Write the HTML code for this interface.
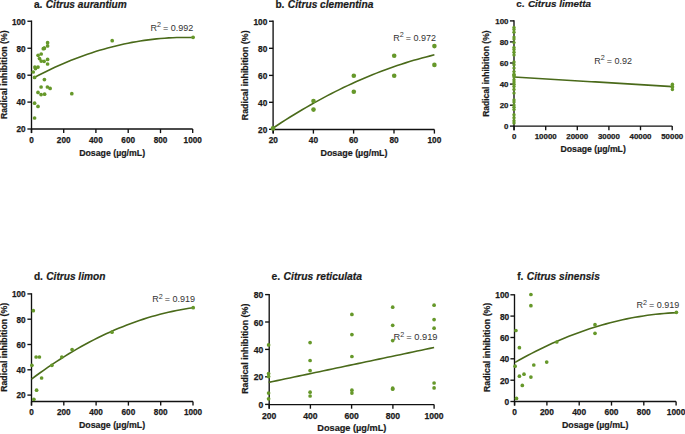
<!DOCTYPE html>
<html><head><meta charset="utf-8"><style>
html,body{margin:0;padding:0;background:#fff;}
svg{display:block;}
text{font-family:"Liberation Sans", sans-serif;fill:#1a1a1a;}
.ax{stroke:#111;stroke-width:1.35;fill:none;}
.yt{font-size:8.2px;font-weight:bold;text-anchor:end;stroke:#1a1a1a;stroke-width:0.25px;}
.xt{font-size:8.2px;font-weight:bold;text-anchor:middle;stroke:#1a1a1a;stroke-width:0.25px;}
.ti{font-weight:bold;stroke:#1a1a1a;stroke-width:0.2px;}
.al{font-size:8.7px;font-weight:bold;text-anchor:middle;stroke:#1a1a1a;stroke-width:0.2px;}
.r2{font-size:9px;text-anchor:end;fill:#333;}
.ln{stroke:#4a6a1a;stroke-width:1.6;fill:none;}
circle{fill:#66982a;}
</style></head><body>
<svg width="685" height="434" viewBox="0 0 685 434">
<g><path d="M31.5 20.58V133.1M31.5 129H192.7" class="ax"/><path d="M27.4 129H31.5" class="ax"/><text x="25.65" y="132.35" class="yt" style="font-size:8.2px">20</text><path d="M27.4 102.1H31.5" class="ax"/><text x="25.65" y="105.45" class="yt" style="font-size:8.2px">40</text><path d="M27.4 75.2H31.5" class="ax"/><text x="25.65" y="78.55" class="yt" style="font-size:8.2px">60</text><path d="M27.4 48.25H31.5" class="ax"/><text x="25.65" y="51.6" class="yt" style="font-size:8.2px">80</text><path d="M27.4 21.25H31.5" class="ax"/><text x="25.65" y="24.6" class="yt" style="font-size:8.2px">100</text><path d="M31.5 129V133.1" class="ax"/><text x="31.5" y="142.6" class="xt" style="font-size:8.2px">0</text><path d="M63.7 129V133.1" class="ax"/><text x="63.7" y="142.6" class="xt" style="font-size:8.2px">200</text><path d="M95.9 129V133.1" class="ax"/><text x="95.9" y="142.6" class="xt" style="font-size:8.2px">400</text><path d="M128.2 129V133.1" class="ax"/><text x="128.2" y="142.6" class="xt" style="font-size:8.2px">600</text><path d="M160.5 129V133.1" class="ax"/><text x="160.5" y="142.6" class="xt" style="font-size:8.2px">800</text><path d="M192.7 129V133.1" class="ax"/><text x="192.7" y="142.6" class="xt" style="font-size:8.2px">1000</text><text x="33.9" y="7.7" class="ti" font-size="10.15">a.<tspan dx="3.4" font-style="italic">Citrus aurantium</tspan></text><text transform="translate(6.9 74.75) rotate(-90)" class="al" style="font-size:8.73px">Radical inhibition (%)</text><text x="112.15" y="155.8" class="al" style="font-size:8.78px">Dosage (µg/mL)</text><text x="193.3" y="30.7" class="r2" style="font-size:9px">R<tspan dy="-3.3" font-size="7.2">2</tspan><tspan dy="3.3" dx="-0.6"> = 0.992</tspan></text><path d="M34.5 77.37 L38.57 75.24 L42.63 73.18 L46.7 71.17 L50.77 69.22 L54.83 67.33 L58.9 65.49 L62.97 63.72 L67.03 62 L71.1 60.34 L75.17 58.74 L79.23 57.19 L83.3 55.71 L87.37 54.28 L91.43 52.91 L95.5 51.6 L99.57 50.35 L103.63 49.15 L107.7 48.02 L111.77 46.94 L115.83 45.91 L119.9 44.95 L123.97 44.05 L128.03 43.2 L132.1 42.41 L136.17 41.68 L140.23 41.01 L144.3 40.39 L148.37 39.84 L152.43 39.34 L156.5 38.9 L160.57 38.52 L164.63 38.19 L168.7 37.92 L172.77 37.72 L176.83 37.57 L180.9 37.47 L184.97 37.44 L189.03 37.46 L193.1 37.55" class="ln"/><circle cx="47.6" cy="42.7" r="1.85"/><circle cx="47.6" cy="45.9" r="1.85"/><circle cx="44.1" cy="48.4" r="1.85"/><circle cx="43.3" cy="48.7" r="1.85"/><circle cx="44.4" cy="48.1" r="1.85"/><circle cx="41.2" cy="54" r="1.85"/><circle cx="38.1" cy="55.3" r="1.85"/><circle cx="39.5" cy="58.6" r="1.85"/><circle cx="41.2" cy="61.1" r="1.85"/><circle cx="44.1" cy="61.3" r="1.85"/><circle cx="47.6" cy="59.4" r="1.85"/><circle cx="47.6" cy="64" r="1.85"/><circle cx="34.9" cy="67.1" r="1.85"/><circle cx="38" cy="67.1" r="1.85"/><circle cx="35.5" cy="68.6" r="1.85"/><circle cx="33.2" cy="72" r="1.85"/><circle cx="34.6" cy="77.4" r="1.85"/><circle cx="44.4" cy="79.6" r="1.85"/><circle cx="41.1" cy="87" r="1.85"/><circle cx="47.4" cy="87" r="1.85"/><circle cx="50.1" cy="88.4" r="1.85"/><circle cx="38" cy="92.4" r="1.85"/><circle cx="41.1" cy="94.6" r="1.85"/><circle cx="44.6" cy="94.2" r="1.85"/><circle cx="71.8" cy="93.7" r="1.85"/><circle cx="34.6" cy="103.2" r="1.85"/><circle cx="38" cy="106.4" r="1.85"/><circle cx="34.6" cy="118" r="1.85"/><circle cx="112.2" cy="40.7" r="1.85"/><circle cx="193.1" cy="37.3" r="1.85"/></g>
<g><path d="M273.1 20.58V133.6M273.1 129.5H434.4" class="ax"/><path d="M269 129.3H273.1" class="ax"/><text x="267.35" y="132.69" class="yt" style="font-size:8.3px">20</text><path d="M269 102.3H273.1" class="ax"/><text x="267.35" y="105.69" class="yt" style="font-size:8.3px">40</text><path d="M269 75.4H273.1" class="ax"/><text x="267.35" y="78.79" class="yt" style="font-size:8.3px">60</text><path d="M269 48.3H273.1" class="ax"/><text x="267.35" y="51.69" class="yt" style="font-size:8.3px">80</text><path d="M269 21.25H273.1" class="ax"/><text x="267.35" y="24.64" class="yt" style="font-size:8.3px">100</text><path d="M273.3 129.5V133.6" class="ax"/><text x="273.3" y="143" class="xt" style="font-size:8.3px">20</text><path d="M313.4 129.5V133.6" class="ax"/><text x="313.4" y="143" class="xt" style="font-size:8.3px">40</text><path d="M353.6 129.5V133.6" class="ax"/><text x="353.6" y="143" class="xt" style="font-size:8.3px">60</text><path d="M394 129.5V133.6" class="ax"/><text x="394" y="143" class="xt" style="font-size:8.3px">80</text><path d="M434.4 129.5V133.6" class="ax"/><text x="434.4" y="143" class="xt" style="font-size:8.3px">100</text><text x="275.4" y="7.5" class="ti" font-size="10.2">b.<tspan dx="3.4" font-style="italic">Citrus clementina</tspan></text><text transform="translate(248.3 75.3) rotate(-90)" class="al" style="font-size:8.84px">Radical inhibition (%)</text><text x="354" y="156" class="al" style="font-size:8.93px">Dosage (µg/mL)</text><text x="436" y="40.7" class="r2" style="font-size:9px">R<tspan dy="-3.3" font-size="7.2">2</tspan><tspan dy="3.3" dx="-0.6"> = 0.972</tspan></text><path d="M273.2 127.96 L277.33 125.22 L281.47 122.53 L285.6 119.88 L289.73 117.28 L293.87 114.72 L298 112.21 L302.13 109.75 L306.27 107.33 L310.4 104.95 L314.53 102.62 L318.67 100.34 L322.8 98.1 L326.93 95.91 L331.07 93.76 L335.2 91.65 L339.33 89.6 L343.47 87.59 L347.6 85.62 L351.73 83.7 L355.87 81.82 L360 80 L364.13 78.21 L368.27 76.47 L372.4 74.78 L376.53 73.13 L380.67 71.53 L384.8 69.97 L388.93 68.46 L393.07 66.99 L397.2 65.57 L401.33 64.2 L405.47 62.87 L409.6 61.58 L413.73 60.35 L417.87 59.15 L422 58 L426.13 56.9 L430.27 55.85 L434.4 54.83" class="ln"/><circle cx="273" cy="128.4" r="2.3"/><circle cx="313.5" cy="101" r="2.3"/><circle cx="313.5" cy="109.6" r="2.3"/><circle cx="353.8" cy="75.8" r="2.3"/><circle cx="353.8" cy="91.7" r="2.3"/><circle cx="394.2" cy="55.7" r="2.3"/><circle cx="394.2" cy="75.7" r="2.3"/><circle cx="434.4" cy="46.1" r="2.3"/><circle cx="434.4" cy="64.9" r="2.3"/></g>
<g><path d="M514 20.23V130.2M514 126.1H672.2" class="ax"/><path d="M509.9 126.1H514" class="ax"/><text x="508.45" y="129.33" class="yt" style="font-size:7.9px">0</text><path d="M509.9 105.2H514" class="ax"/><text x="508.45" y="108.43" class="yt" style="font-size:7.9px">20</text><path d="M509.9 84.1H514" class="ax"/><text x="508.45" y="87.33" class="yt" style="font-size:7.9px">40</text><path d="M509.9 63H514" class="ax"/><text x="508.45" y="66.23" class="yt" style="font-size:7.9px">60</text><path d="M509.9 41.9H514" class="ax"/><text x="508.45" y="45.13" class="yt" style="font-size:7.9px">80</text><path d="M509.9 20.9H514" class="ax"/><text x="508.45" y="24.13" class="yt" style="font-size:7.9px">100</text><path d="M514.1 126.1V130.2" class="ax"/><text x="514.1" y="139.4" class="xt" style="font-size:7.9px">0</text><path d="M545.7 126.1V130.2" class="ax"/><text x="545.7" y="139.4" class="xt" style="font-size:7.9px">10000</text><path d="M577.3 126.1V130.2" class="ax"/><text x="577.3" y="139.4" class="xt" style="font-size:7.9px">20000</text><path d="M608.9 126.1V130.2" class="ax"/><text x="608.9" y="139.4" class="xt" style="font-size:7.9px">30000</text><path d="M640.5 126.1V130.2" class="ax"/><text x="640.5" y="139.4" class="xt" style="font-size:7.9px">40000</text><path d="M672.2 126.1V130.2" class="ax"/><text x="672.2" y="139.4" class="xt" style="font-size:7.9px">50000</text><text x="516.3" y="6.8" class="ti" font-size="9.9">c.<tspan dx="3.4" font-style="italic">Citrus limetta</tspan></text><text transform="translate(489.3 73.65) rotate(-90)" class="al" style="font-size:8.51px">Radical inhibition (%)</text><text x="593.15" y="151.8" class="al" style="font-size:8.7px">Dosage (µg/mL)</text><text x="632" y="63.6" class="r2" style="font-size:9px">R<tspan dy="-3.3" font-size="7.2">2</tspan><tspan dy="3.3" dx="-0.6"> = 0.92</tspan></text><path d="M514 77 L518.06 77.25 L522.13 77.49 L526.19 77.74 L530.26 77.98 L534.32 78.23 L538.38 78.48 L542.45 78.72 L546.51 78.97 L550.58 79.22 L554.64 79.46 L558.71 79.71 L562.77 79.95 L566.83 80.2 L570.9 80.45 L574.96 80.69 L579.03 80.94 L583.09 81.18 L587.15 81.43 L591.22 81.68 L595.28 81.92 L599.35 82.17 L603.41 82.42 L607.47 82.66 L611.54 82.91 L615.6 83.15 L619.67 83.4 L623.73 83.65 L627.79 83.89 L631.86 84.14 L635.92 84.38 L639.99 84.63 L644.05 84.88 L648.12 85.12 L652.18 85.37 L656.24 85.62 L660.31 85.86 L664.37 86.11 L668.44 86.35 L672.5 86.6" class="ln"/><circle cx="514" cy="27.4" r="1.7"/><circle cx="514" cy="29.5" r="1.7"/><circle cx="514" cy="32.2" r="1.7"/><circle cx="514" cy="37.1" r="1.7"/><circle cx="514" cy="39.1" r="1.7"/><circle cx="514" cy="42.6" r="1.7"/><circle cx="514" cy="47.4" r="1.7"/><circle cx="514" cy="49.5" r="1.7"/><circle cx="514" cy="52.2" r="1.7"/><circle cx="514" cy="55" r="1.7"/><circle cx="514" cy="61.9" r="1.7"/><circle cx="514" cy="64.7" r="1.7"/><circle cx="514" cy="68.1" r="1.7"/><circle cx="514" cy="71.6" r="1.7"/><circle cx="514" cy="74.3" r="1.7"/><circle cx="514" cy="75.2" r="1.7"/><circle cx="514" cy="76.7" r="1.7"/><circle cx="514" cy="79.7" r="1.7"/><circle cx="514" cy="81.9" r="1.7"/><circle cx="514" cy="84.2" r="1.7"/><circle cx="514" cy="86.4" r="1.7"/><circle cx="514" cy="89.4" r="1.7"/><circle cx="514" cy="93.1" r="1.7"/><circle cx="514" cy="99.9" r="1.7"/><circle cx="514" cy="102.1" r="1.7"/><circle cx="514" cy="105.1" r="1.7"/><circle cx="514" cy="107.3" r="1.7"/><circle cx="514" cy="109.6" r="1.7"/><circle cx="514" cy="114.8" r="1.7"/><circle cx="514" cy="117.8" r="1.7"/><circle cx="514" cy="120.7" r="1.7"/><circle cx="514" cy="123" r="1.7"/><circle cx="672.4" cy="84.2" r="1.7"/><circle cx="672.4" cy="86.2" r="1.7"/><circle cx="672.4" cy="87.6" r="1.7"/><circle cx="672.4" cy="89.6" r="1.7"/></g>
<g><path d="M31.5 293.23V405.6M31.5 401.5H193" class="ax"/><path d="M27.4 395.1H31.5" class="ax"/><text x="25.55" y="398.45" class="yt" style="font-size:8.2px">20</text><path d="M27.4 369.8H31.5" class="ax"/><text x="25.55" y="373.15" class="yt" style="font-size:8.2px">40</text><path d="M27.4 344.5H31.5" class="ax"/><text x="25.55" y="347.85" class="yt" style="font-size:8.2px">60</text><path d="M27.4 319.2H31.5" class="ax"/><text x="25.55" y="322.55" class="yt" style="font-size:8.2px">80</text><path d="M27.4 293.9H31.5" class="ax"/><text x="25.55" y="297.25" class="yt" style="font-size:8.2px">100</text><path d="M31.5 401.5V405.6" class="ax"/><text x="31.5" y="415.1" class="xt" style="font-size:8.2px">0</text><path d="M63.8 401.5V405.6" class="ax"/><text x="63.8" y="415.1" class="xt" style="font-size:8.2px">200</text><path d="M96.1 401.5V405.6" class="ax"/><text x="96.1" y="415.1" class="xt" style="font-size:8.2px">400</text><path d="M128.4 401.5V405.6" class="ax"/><text x="128.4" y="415.1" class="xt" style="font-size:8.2px">600</text><path d="M160.7 401.5V405.6" class="ax"/><text x="160.7" y="415.1" class="xt" style="font-size:8.2px">800</text><path d="M193 401.5V405.6" class="ax"/><text x="193" y="415.1" class="xt" style="font-size:8.2px">1000</text><text x="33.9" y="280" class="ti" font-size="10.15">d.<tspan dx="3.4" font-style="italic">Citrus limon</tspan></text><text transform="translate(6.9 347.3) rotate(-90)" class="al" style="font-size:8.78px">Radical inhibition (%)</text><text x="112.05" y="428" class="al" style="font-size:8.81px">Dosage (µg/mL)</text><text x="195" y="302.1" class="r2" style="font-size:9px">R<tspan dy="-3.3" font-size="7.2">2</tspan><tspan dy="3.3" dx="-0.6"> = 0.919</tspan></text><path d="M31.5 379.05 L35.65 375.99 L39.79 372.98 L43.94 370.05 L48.08 367.18 L52.23 364.37 L56.38 361.63 L60.52 358.96 L64.67 356.35 L68.82 353.8 L72.96 351.32 L77.11 348.91 L81.25 346.56 L85.4 344.27 L89.55 342.05 L93.69 339.9 L97.84 337.81 L101.98 335.78 L106.13 333.83 L110.28 331.93 L114.42 330.1 L118.57 328.34 L122.72 326.64 L126.86 325.01 L131.01 323.44 L135.15 321.94 L139.3 320.5 L143.45 319.13 L147.59 317.82 L151.74 316.58 L155.88 315.4 L160.03 314.29 L164.18 313.25 L168.32 312.26 L172.47 311.35 L176.62 310.5 L180.76 309.71 L184.91 308.99 L189.05 308.33 L193.2 307.74" class="ln"/><circle cx="33.3" cy="310.7" r="1.85"/><circle cx="31.9" cy="365.3" r="1.85"/><circle cx="36.1" cy="357" r="1.85"/><circle cx="39.4" cy="357" r="1.85"/><circle cx="41.6" cy="378" r="1.85"/><circle cx="36.6" cy="390.2" r="1.85"/><circle cx="33.9" cy="399.3" r="1.85"/><circle cx="51.9" cy="365.3" r="1.85"/><circle cx="61.8" cy="357" r="1.85"/><circle cx="72.1" cy="349.5" r="1.85"/><circle cx="112" cy="332.2" r="1.85"/><circle cx="193.2" cy="307.7" r="1.85"/></g>
<g><path d="M269.2 293.93V408.7M269.2 404.6H434.1" class="ax"/><path d="M265.1 404.4H269.2" class="ax"/><text x="263.35" y="407.91" class="yt" style="font-size:8.6px">0</text><path d="M265.1 376.8H269.2" class="ax"/><text x="263.35" y="380.31" class="yt" style="font-size:8.6px">20</text><path d="M265.1 349.4H269.2" class="ax"/><text x="263.35" y="352.91" class="yt" style="font-size:8.6px">40</text><path d="M265.1 322H269.2" class="ax"/><text x="263.35" y="325.51" class="yt" style="font-size:8.6px">60</text><path d="M265.1 294.6H269.2" class="ax"/><text x="263.35" y="298.11" class="yt" style="font-size:8.6px">80</text><path d="M269.2 404.6V408.7" class="ax"/><text x="269.2" y="418.7" class="xt" style="font-size:8.6px">200</text><path d="M310.4 404.6V408.7" class="ax"/><text x="310.4" y="418.7" class="xt" style="font-size:8.6px">400</text><path d="M351.6 404.6V408.7" class="ax"/><text x="351.6" y="418.7" class="xt" style="font-size:8.6px">600</text><path d="M392.9 404.6V408.7" class="ax"/><text x="392.9" y="418.7" class="xt" style="font-size:8.6px">800</text><path d="M434.1 404.6V408.7" class="ax"/><text x="434.1" y="418.7" class="xt" style="font-size:8.6px">1000</text><text x="271.6" y="280" class="ti" font-size="10.3">e.<tspan dx="3.4" font-style="italic">Citrus reticulata</tspan></text><text transform="translate(248.4 348.7) rotate(-90)" class="al" style="font-size:8.88px">Radical inhibition (%)</text><text x="351.85" y="431.3" class="al" style="font-size:9.2px">Dosage (µg/mL)</text><text x="437.5" y="339.8" class="r2" style="font-size:9.3px">R<tspan dy="-3.3" font-size="7.2">2</tspan><tspan dy="3.3" dx="-0.6"> = 0.919</tspan></text><path d="M268.6 382.4 L272.84 381.51 L277.09 380.61 L281.33 379.72 L285.57 378.82 L289.82 377.93 L294.06 377.03 L298.31 376.14 L302.55 375.24 L306.79 374.35 L311.04 373.45 L315.28 372.56 L319.52 371.66 L323.77 370.77 L328.01 369.87 L332.25 368.98 L336.5 368.08 L340.74 367.19 L344.98 366.29 L349.23 365.4 L353.47 364.5 L357.72 363.61 L361.96 362.71 L366.2 361.82 L370.45 360.92 L374.69 360.03 L378.93 359.13 L383.18 358.24 L387.42 357.34 L391.66 356.45 L395.91 355.55 L400.15 354.66 L404.39 353.76 L408.64 352.87 L412.88 351.97 L417.13 351.08 L421.37 350.18 L425.61 349.29 L429.86 348.39 L434.1 347.5" class="ln"/><circle cx="268.6" cy="344.9" r="1.85"/><circle cx="268.6" cy="373.5" r="1.85"/><circle cx="268.6" cy="376.6" r="1.85"/><circle cx="268.6" cy="393.1" r="1.85"/><circle cx="268.6" cy="398.8" r="1.85"/><circle cx="310.1" cy="342.6" r="1.85"/><circle cx="310.1" cy="360.5" r="1.85"/><circle cx="310.1" cy="370.6" r="1.85"/><circle cx="310.1" cy="392.2" r="1.85"/><circle cx="310.1" cy="396" r="1.85"/><circle cx="351.9" cy="314.4" r="1.85"/><circle cx="351.9" cy="334.6" r="1.85"/><circle cx="351.9" cy="356.5" r="1.85"/><circle cx="351.9" cy="390.2" r="1.85"/><circle cx="351.9" cy="393.1" r="1.85"/><circle cx="392.7" cy="307.2" r="1.85"/><circle cx="392.7" cy="325.3" r="1.85"/><circle cx="392.7" cy="340.6" r="1.85"/><circle cx="392.7" cy="388.2" r="1.85"/><circle cx="392.7" cy="389.2" r="1.85"/><circle cx="434.1" cy="305.2" r="1.85"/><circle cx="434.1" cy="319.6" r="1.85"/><circle cx="434.1" cy="328.2" r="1.85"/><circle cx="434.1" cy="383" r="1.85"/><circle cx="434.1" cy="387.9" r="1.85"/></g>
<g><path d="M514.5 294.13V405.6M514.5 401.5H676.1" class="ax"/><path d="M510.4 401.5H514.5" class="ax"/><text x="509.25" y="404.93" class="yt" style="font-size:8.4px">0</text><path d="M510.4 380.2H514.5" class="ax"/><text x="509.25" y="383.63" class="yt" style="font-size:8.4px">20</text><path d="M510.4 358.8H514.5" class="ax"/><text x="509.25" y="362.23" class="yt" style="font-size:8.4px">40</text><path d="M510.4 337.5H514.5" class="ax"/><text x="509.25" y="340.93" class="yt" style="font-size:8.4px">60</text><path d="M510.4 316.1H514.5" class="ax"/><text x="509.25" y="319.53" class="yt" style="font-size:8.4px">80</text><path d="M510.4 294.8H514.5" class="ax"/><text x="509.25" y="298.23" class="yt" style="font-size:8.4px">100</text><path d="M514.6 401.5V405.6" class="ax"/><text x="514.6" y="414.8" class="xt" style="font-size:8.4px">0</text><path d="M546.9 401.5V405.6" class="ax"/><text x="546.9" y="414.8" class="xt" style="font-size:8.4px">200</text><path d="M579.2 401.5V405.6" class="ax"/><text x="579.2" y="414.8" class="xt" style="font-size:8.4px">400</text><path d="M611.5 401.5V405.6" class="ax"/><text x="611.5" y="414.8" class="xt" style="font-size:8.4px">600</text><path d="M643.8 401.5V405.6" class="ax"/><text x="643.8" y="414.8" class="xt" style="font-size:8.4px">800</text><path d="M676.1 401.5V405.6" class="ax"/><text x="676.1" y="414.8" class="xt" style="font-size:8.4px">1000</text><text x="517.2" y="279.8" class="ti" font-size="10.2">f.<tspan dx="3.4" font-style="italic">Citrus sinensis</tspan></text><text transform="translate(489.6 347.35) rotate(-90)" class="al" style="font-size:8.79px">Radical inhibition (%)</text><text x="595.15" y="428" class="al" style="font-size:8.83px">Dosage (µg/mL)</text><text x="679.3" y="308" class="r2" style="font-size:9px">R<tspan dy="-3.3" font-size="7.2">2</tspan><tspan dy="3.3" dx="-0.6"> = 0.919</tspan></text><path d="M515.1 362.37 L519.24 360.03 L523.37 357.75 L527.51 355.52 L531.64 353.35 L535.78 351.24 L539.92 349.18 L544.05 347.18 L548.19 345.23 L552.32 343.34 L556.46 341.5 L560.59 339.73 L564.73 338 L568.87 336.34 L573 334.73 L577.14 333.17 L581.27 331.68 L585.41 330.23 L589.55 328.85 L593.68 327.52 L597.82 326.24 L601.95 325.03 L606.09 323.86 L610.23 322.76 L614.36 321.71 L618.5 320.72 L622.63 319.78 L626.77 318.9 L630.91 318.07 L635.04 317.3 L639.18 316.59 L643.31 315.93 L647.45 315.33 L651.58 314.79 L655.72 314.3 L659.86 313.86 L663.99 313.49 L668.13 313.17 L672.26 312.9 L676.4 312.69" class="ln"/><circle cx="530.9" cy="294.5" r="1.85"/><circle cx="530.9" cy="305.7" r="1.85"/><circle cx="515.9" cy="330.5" r="1.85"/><circle cx="519.4" cy="347.7" r="1.85"/><circle cx="515.1" cy="366.2" r="1.85"/><circle cx="533.8" cy="365" r="1.85"/><circle cx="546.7" cy="362.1" r="1.85"/><circle cx="519.4" cy="376.2" r="1.85"/><circle cx="524" cy="374.2" r="1.85"/><circle cx="530.9" cy="377.1" r="1.85"/><circle cx="522.3" cy="385.4" r="1.85"/><circle cx="516.5" cy="398.4" r="1.85"/><circle cx="556.8" cy="342" r="1.85"/><circle cx="595" cy="324.7" r="1.85"/><circle cx="595" cy="333.3" r="1.85"/><circle cx="676.4" cy="312.3" r="1.85"/></g>
</svg>
</body></html>
